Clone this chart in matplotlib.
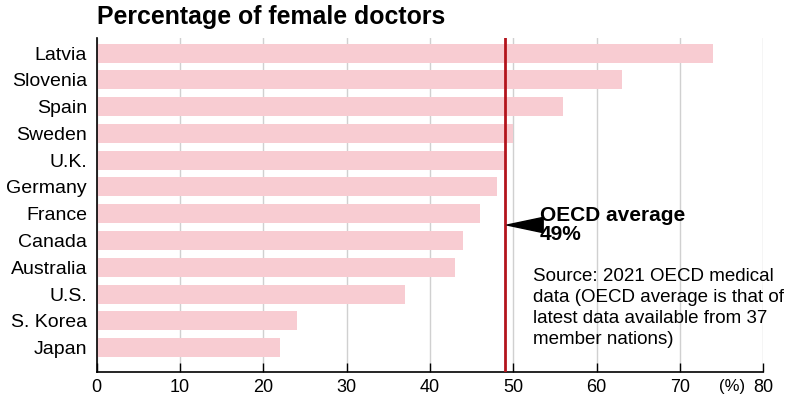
import matplotlib
matplotlib.use("Agg")
import matplotlib.pyplot as plt

plt.rcParams['font.family'] = ['Liberation Sans', 'DejaVu Sans']

countries = ["Latvia", "Slovenia", "Spain", "Sweden", "U.K.", "Germany",
             "France", "Canada", "Australia", "U.S.", "S. Korea", "Japan"]
share = [74, 63, 56, 50, 49, 48, 46, 44, 43, 37, 24, 22]
oecd_avg = 49
xticks = [0, 10, 20, 30, 40, 50, 60, 70, 80]

bar_col = "#f8ccd2"
line_col = "#b3141d"

fig = plt.figure(figsize=(8, 3.96), dpi=100)
ax = fig.add_axes([0.121, 0.061, 0.833, 0.843])

pos = list(range(len(countries)))
ax.barh(pos, share, height=0.71, color=bar_col, zorder=2)
ax.axvline(oecd_avg, color=line_col, lw=2, zorder=3)

ax.set_xlim(0, 80)
ax.set_ylim(11.9, -0.56)
ax.set_yticks(pos)
ax.set_yticklabels(countries, fontsize=14)
ax.set_xticks(xticks)
ax.set_xticklabels([str(t) for t in xticks], fontsize=13)
ax.tick_params(axis='y', length=0, pad=7)
ax.tick_params(axis='x', direction='in', length=6.5, width=1, pad=5)
ax.grid(axis='x', color='#d0d0d0', lw=1, zorder=1)
ax.set_axisbelow(True)
for s in ['top', 'right']:
    ax.spines[s].set_visible(False)
ax.spines['left'].set_linewidth(1.2)
ax.spines['bottom'].set_linewidth(1.2)

# percent unit next to the last tick
ax.text(76.3, -0.022, "(%)", transform=ax.get_xaxis_transform(),
        fontsize=12, ha='center', va='top')

# OECD average pointer
ax.annotate("", xy=(oecd_avg + 0.25, 6.42), xytext=(oecd_avg + 3.4, 6.42),
            arrowprops=dict(facecolor='black', edgecolor='black', width=0.01,
                            headwidth=11, headlength=26, shrink=0))
ax.text(oecd_avg + 4.2, 6.27, "OECD average", fontsize=15, fontweight='bold',
        va='baseline', ha='left')
ax.text(oecd_avg + 4.2, 6.98, f"{oecd_avg}%", fontsize=15, fontweight='bold',
        va='baseline', ha='left')

# baseline of the last line
ax.text(oecd_avg + 3.4, 10.86,
        "Source: 2021 OECD medical\ndata (OECD average is that of\n"
        "latest data available from 37\nmember nations)",
        fontsize=13.5, va='baseline', ha='left', linespacing=1.3)

fig.text(0.121, 0.939, "Percentage of female doctors", fontsize=17.9,
         fontweight='bold', ha='left', va='baseline')

fig.savefig("out.png", dpi=100)
